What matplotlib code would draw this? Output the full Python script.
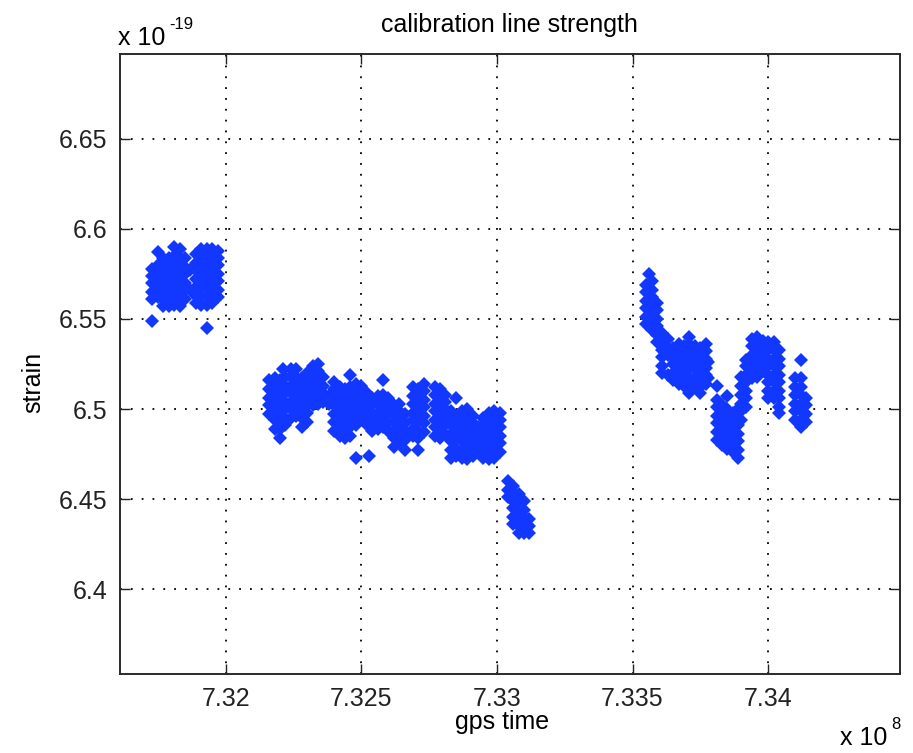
import numpy as np
import matplotlib
matplotlib.use("Agg")
import matplotlib.pyplot as plt

# gps time in units of 1e8 s, strain in units of 1e-19
# each run: one time per column, list of strain readings at that time

run1_time = [7.3173, 7.3175, 7.3177, 7.3179, 7.3181, 7.3183, 7.3185, 7.3187,
             7.3189, 7.3191, 7.3193, 7.3195, 7.3197]
run1_strain = [
    [6.549, 6.561, 6.565, 6.570, 6.574, 6.578],
    [6.562, 6.567, 6.571, 6.576, 6.580, 6.587],
    [6.557, 6.561, 6.566, 6.570, 6.575, 6.579, 6.584],
    [6.557, 6.562, 6.566, 6.571, 6.575, 6.580, 6.584],
    [6.558, 6.562, 6.567, 6.571, 6.576, 6.580, 6.585, 6.590],
    [6.557, 6.561, 6.566, 6.570, 6.575, 6.579, 6.584, 6.589],
    [6.561, 6.566, 6.570, 6.575, 6.579, 6.584],
    [6.566, 6.577],
    [6.559, 6.563, 6.568, 6.572, 6.577, 6.581, 6.586],
    [6.558, 6.562, 6.567, 6.571, 6.576, 6.580, 6.585, 6.589],
    [6.545, 6.558, 6.563, 6.567, 6.572, 6.576, 6.581, 6.585, 6.589],
    [6.559, 6.563, 6.568, 6.572, 6.577, 6.581, 6.586, 6.589],
    [6.562, 6.566, 6.571, 6.575, 6.580, 6.584, 6.588],
]

run2_time = [7.3216, 7.3218, 7.3220, 7.3221, 7.3222, 7.3224, 7.3226, 7.3228,
             7.3230, 7.3232, 7.3234, 7.3236, 7.3238, 7.3240, 7.3242, 7.3244,
             7.3246, 7.3248, 7.3250, 7.3252, 7.3253, 7.3254, 7.3256, 7.3258,
             7.3260, 7.3262, 7.3264, 7.3266, 7.3269, 7.3271, 7.3273, 7.3277,
             7.3279, 7.3281, 7.3283, 7.3285, 7.3287, 7.3289, 7.3291, 7.3293,
             7.3295, 7.3297, 7.3299, 7.3301]
run2_strain = [
    [6.497, 6.502, 6.506, 6.511, 6.516],
    [6.489, 6.494, 6.498, 6.503, 6.507, 6.512, 6.517],
    [6.484, 6.489, 6.493, 6.498, 6.502, 6.507, 6.511, 6.516],
    [6.522],
    [6.491, 6.495, 6.500, 6.504, 6.509, 6.513, 6.518],
    [6.495, 6.500, 6.504, 6.509, 6.513, 6.518, 6.522],
    [6.496, 6.500, 6.505, 6.509, 6.514, 6.518, 6.522],
    [6.490, 6.495, 6.499, 6.504, 6.508, 6.513, 6.517],
    [6.493, 6.498, 6.502, 6.507, 6.511, 6.516, 6.520],
    [6.502, 6.506, 6.511, 6.515, 6.520, 6.524],
    [6.503, 6.507, 6.512, 6.516, 6.521, 6.525],
    [6.504, 6.509, 6.513, 6.518],
    [6.503, 6.507],
    [6.488, 6.493, 6.497, 6.502, 6.506, 6.511, 6.515],
    [6.485, 6.489, 6.494, 6.498, 6.503, 6.507, 6.512],
    [6.484, 6.489, 6.493, 6.498, 6.502, 6.507, 6.511],
    [6.485, 6.490, 6.494, 6.499, 6.503, 6.508, 6.512, 6.519],
    [6.473, 6.491, 6.495, 6.500, 6.504, 6.509, 6.514],
    [6.495, 6.499, 6.504, 6.508, 6.513],
    [6.491, 6.495, 6.500, 6.504, 6.509],
    [6.474],
    [6.488, 6.493, 6.497, 6.502, 6.506],
    [6.489, 6.494, 6.498, 6.503, 6.507],
    [6.490, 6.494, 6.499, 6.503, 6.508, 6.516],
    [6.488, 6.492, 6.497, 6.501, 6.506],
    [6.479, 6.484, 6.488, 6.493, 6.497, 6.502],
    [6.481, 6.485, 6.490, 6.494, 6.499, 6.503],
    [6.477, 6.483, 6.488, 6.492, 6.497],
    [6.485, 6.489, 6.494, 6.498, 6.503, 6.507, 6.512],
    [6.477, 6.484, 6.488, 6.493, 6.497, 6.502, 6.506, 6.511],
    [6.487, 6.492, 6.496, 6.501, 6.505, 6.510, 6.514],
    [6.485, 6.490, 6.494, 6.499, 6.503, 6.508, 6.512],
    [6.484, 6.488, 6.493, 6.497, 6.502, 6.506, 6.511],
    [6.486, 6.491, 6.495, 6.500, 6.504, 6.508],
    [6.473, 6.477, 6.482, 6.486, 6.491, 6.495, 6.499],
    [6.474, 6.478, 6.483, 6.487, 6.492, 6.496, 6.506],
    [6.473, 6.477, 6.482, 6.486, 6.491, 6.495, 6.499],
    [6.472, 6.477, 6.481, 6.486, 6.490, 6.495, 6.500],
    [6.474, 6.478, 6.483, 6.487, 6.492, 6.496],
    [6.476, 6.481, 6.485, 6.490],
    [6.473, 6.477, 6.482, 6.486, 6.491, 6.495],
    [6.472, 6.476, 6.481, 6.485, 6.490, 6.494, 6.498],
    [6.473, 6.477, 6.482, 6.486, 6.491, 6.495, 6.499],
    [6.476, 6.481, 6.485, 6.490, 6.494, 6.498],
]

run3_time = [7.3304, 7.3306, 7.3308, 7.3310, 7.3312]
run3_strain = [
    [6.451, 6.455, 6.460],
    [6.436, 6.440, 6.445, 6.449, 6.454, 6.457],
    [6.431, 6.435, 6.440, 6.444, 6.449, 6.453],
    [6.431, 6.435, 6.440, 6.444, 6.449],
    [6.431, 6.435, 6.439],
]

run4_time = [7.3355, 7.3356, 7.3357, 7.3359, 7.3361, 7.3363, 7.3365, 7.3367,
             7.3369, 7.3371, 7.3373, 7.3375, 7.3377, 7.3378, 7.3381, 7.3383,
             7.3385, 7.3387, 7.3389, 7.3390, 7.3392, 7.3394, 7.3396, 7.3398,
             7.3400, 7.3402, 7.3404, 7.3410, 7.3412, 7.3414]
run4_strain = [
    [6.547, 6.551, 6.556, 6.560, 6.565, 6.569],
    [6.575],
    [6.544, 6.548, 6.553, 6.557, 6.562, 6.566, 6.571],
    [6.537, 6.541, 6.546, 6.550, 6.555, 6.559],
    [6.520, 6.524, 6.529, 6.533, 6.538, 6.542],
    [6.519, 6.530, 6.534, 6.539],
    [6.516, 6.520, 6.525, 6.529, 6.534],
    [6.514, 6.518, 6.523, 6.527, 6.532, 6.536],
    [6.513, 6.517, 6.522, 6.526, 6.531, 6.535],
    [6.509, 6.514, 6.518, 6.523, 6.527, 6.532, 6.536, 6.540],
    [6.513, 6.517, 6.522, 6.526, 6.531, 6.535],
    [6.509, 6.512, 6.516, 6.521, 6.525, 6.530, 6.534],
    [6.514, 6.519, 6.523, 6.528, 6.532, 6.536],
    [6.517, 6.526],
    [6.483, 6.487, 6.492, 6.496, 6.501, 6.505, 6.513],
    [6.480, 6.484, 6.489, 6.493, 6.498, 6.502],
    [6.478, 6.482, 6.487, 6.491, 6.496, 6.500, 6.507],
    [6.476, 6.480, 6.485, 6.489, 6.494, 6.498],
    [6.473, 6.477, 6.482, 6.486, 6.491, 6.495, 6.500],
    [6.494, 6.499, 6.503, 6.508, 6.513, 6.518],
    [6.501, 6.506, 6.510, 6.515, 6.519, 6.524, 6.527],
    [6.517, 6.521, 6.526, 6.530, 6.535, 6.539],
    [6.518, 6.522, 6.527, 6.531, 6.536, 6.540],
    [6.521, 6.525, 6.530, 6.534, 6.538],
    [6.506, 6.510, 6.515, 6.519, 6.524, 6.528, 6.533, 6.537],
    [6.506, 6.510, 6.515, 6.519, 6.524, 6.528, 6.533, 6.537],
    [6.498, 6.501, 6.506, 6.510, 6.515, 6.519, 6.524, 6.528, 6.533],
    [6.494, 6.499, 6.503, 6.508, 6.512, 6.517],
    [6.490, 6.494, 6.499, 6.503, 6.508, 6.512, 6.517, 6.527],
    [6.493, 6.497, 6.502, 6.506],
]

x_ticks = [7.32, 7.325, 7.33, 7.335, 7.34]
x_labels = ["7.32", "7.325", "7.33", "7.335", "7.34"]
y_ticks = [6.4, 6.45, 6.5, 6.55, 6.6, 6.65]
y_labels = ["6.4", "6.45", "6.5", "6.55", "6.6", "6.65"]


def flatten(times, strains):
    t = [ti for ti, col in zip(times, strains) for _ in col]
    s = [v for col in strains for v in col]
    return np.array(t), np.array(s)


plt.rcParams["font.family"] = ["Liberation Sans", "DejaVu Sans"]
FS = 18
BLUE = "#1238ff"

fig = plt.figure(figsize=(9.13, 7.53), dpi=100)
ax = fig.add_axes([0.1309, 0.1049, 0.8549, 0.8234])

for times, strains in [(run1_time, run1_strain), (run2_time, run2_strain),
                       (run3_time, run3_strain), (run4_time, run4_strain)]:
    t, s = flatten(times, strains)
    ax.plot(t, s, linestyle="none", marker="D", ms=7.2, mew=0, color=BLUE)

ax.set_xlim(7.316084, 7.344864)
ax.set_ylim(6.3528, 6.6972)
ax.set_xticks(x_ticks)
ax.set_xticklabels(x_labels)
ax.set_yticks(y_ticks)
ax.set_yticklabels(y_labels)

ax.set_axisbelow(True)
ax.grid(True, linestyle=(0, (1, 5)), color="k", linewidth=1.3)
for sp in ax.spines.values():
    sp.set_linewidth(1.4)
    sp.set_color("#2a2a2a")
ax.tick_params(direction="in", length=7, width=1, top=True, right=True,
               labelsize=FS, pad=9, colors="#222222")

ax.set_title("calibration line strength", fontsize=FS, pad=16)
ax.set_xlabel("gps time", fontsize=FS)
ax.set_ylabel("strain", fontsize=FS)
ax.xaxis.set_label_coords(0.49, -0.058)
ax.yaxis.set_label_coords(-0.095, 0.47)

# exponent notes for the scaled axes
ax.text(-0.002, 1.014, "x 10", transform=ax.transAxes, fontsize=FS,
        ha="left", va="baseline")
ax.text(0.064, 1.04, "-19", transform=ax.transAxes, fontsize=12,
        ha="left", va="baseline")
ax.text(0.923, -0.114, "x 10", transform=ax.transAxes, fontsize=FS,
        ha="left", va="baseline")
ax.text(0.989, -0.088, "8", transform=ax.transAxes, fontsize=12,
        ha="left", va="baseline")

fig.savefig("out.png", dpi=100)
